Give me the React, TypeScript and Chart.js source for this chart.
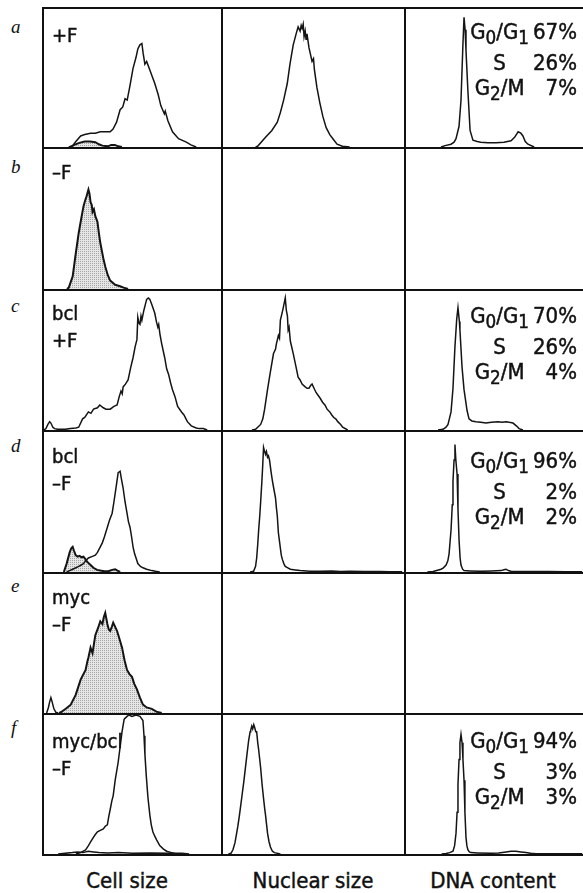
import React, { useEffect, useRef } from "react";
import { Chart, registerables } from "chart.js";

Chart.register(...registerables);

// ---- data: [channel (% of panel width), events (% of panel height)] ----
const cellA = [[14,0],[16.2,1],[18,4],[20.7,8],[23,9],[26.3,10],[29,10],[31.8,11],[34.6,11],[37.4,11],[39,13],[41,18],[43,27],[44.5,29],[45.8,35],[47,34],[48.5,44],[50.3,57],[52,65],[53,71],[54.2,74],[55.3,75],[56,68],[57,60],[58,62],[60,55],[62.6,46],[64.5,38],[66,30],[67,27],[68,24],[68.5,26],[70,19],[72.6,11],[76,6],[80.4,3.5],[83,1.5],[86,0]];
const cellAMinusF = [[15,0],[17,1.5],[20,3],[23,4],[26,4],[29,3.5],[31,2],[33,1],[36,0.5],[38,1.5],[40,1.5],[42,0.5],[44,0]];
const nucA = [[18,0],[19.1,0.5],[23.5,7],[27,12],[30,18],[31.7,25],[33.5,34],[35.5,46],[37,60],[38.8,74],[40.4,82],[41.5,87],[42.6,84],[43.2,88],[43.7,86],[44.3,89],[44.8,80],[45.4,84],[45.9,78],[46.4,82],[47.5,72],[49.2,62],[50,64],[50.5,56],[51.9,43],[53.5,32],[55.2,22],[57,14],[59,9],[60.7,6],[63,2],[66,0.5],[70,0]];
const dnaA = [[19.7,0],[22,1],[25.3,2],[27,3.5],[28.1,6],[29.8,15],[30.9,34],[32,75],[32.6,94],[33.2,85],[33.7,70],[34.8,40],[36,12],[37.6,5],[40,4],[42,3.5],[46,3],[50.6,3],[55,3.5],[59,4.5],[61,7],[63,11],[64.5,10],[65.7,8],[67,4],[68.5,2],[72,0]];

const cellB = [[13,0],[14,1],[16.2,9],[17.9,25],[19.6,40],[21,50],[22.3,59],[23.2,63],[24,66],[25.1,71],[25.7,68],[26.3,62],[27,60],[27.4,55],[28.2,57],[29,52],[30.2,48],[31,40],[31.8,33],[33.5,22],[34.6,16],[36,10],[37.4,6],[40.2,3],[43,2],[45,1],[47.5,0]];

const cellC = [[0,0],[1.1,1],[2.2,4],[3.2,6],[3.9,5],[5,2],[6,1],[7.8,0.5],[12,0.5],[15,1],[18,1.5],[19.6,2],[21.8,8],[23,9],[25.1,13],[26.5,12],[28,15],[30.2,16],[31.5,18],[33.5,16],[35,15],[37.4,15],[39.5,17],[41.3,18],[42.5,24],[43.5,28],[44.2,26],[44.7,31],[46,33],[47.5,36],[49,45],[50.3,52],[51.5,60],[52.5,65],[53,81],[53.6,77],[54.2,76],[54.8,82],[55.3,79],[56.4,86],[57.2,90],[58,94],[59,95],[59.8,94],[61,90],[62.6,84],[63.5,78],[64.3,74],[64.8,76],[65.5,69],[66.5,62],[68.2,52],[69.3,44],[70.4,40],[71.5,34],[72.6,29],[74,24],[75.5,17],[77.7,13],[79,11],[81,6],[83.2,3],[86,1.5],[87.7,1],[90,1],[92.2,0]];
const nucC = [[16,0],[18,0.5],[20.8,4],[22,8],[23,15],[24.6,29],[26.2,42],[27.9,55],[29,58],[29.5,62],[30.6,68],[31.2,66],[31.7,79],[32.8,85],[33.3,88],[34.4,95],[35,86],[35.6,82],[36,72],[36.5,74],[37.2,64],[38.8,55],[40.4,45],[41.5,38],[42.6,36],[43.7,33],[45.4,31],[46.5,30],[47.5,30],[48.4,32],[49.2,33],[50.3,30],[51.4,27],[52.5,25],[53.6,23],[55,20],[56.3,18],[57.5,15],[59,13],[60,11],[61.2,9],[62.3,8],[63.4,6],[65,4],[66.1,2],[68.9,0]];
const dnaC = [[18,0],[20.8,0.5],[22.5,2],[23.6,4],[25.3,13],[26.4,30],[27.5,60],[28.5,80],[29.2,88],[30,78],[30.3,72],[31.5,45],[32.6,29],[34.3,14],[35.4,8],[37,6.5],[39.3,6],[42,5.5],[44.9,5],[48,5.5],[51.7,6],[54,5.5],[56.2,6],[58,5.5],[60.1,5],[62,3],[63.5,1],[65.7,0]];

const cellDMinusF = [[11.2,0],[12.8,6],[14.5,14],[15.4,17],[16.2,18],[17,15],[17.9,12],[19,11],[20.1,11.5],[21.2,10.5],[22.3,11],[23.5,9],[24.6,7],[26.3,5],[27.9,3],[30,1.5],[31.8,1],[34,0.5],[36.3,0.5],[38.5,1.5],[40.2,2],[41.5,1],[43,0]];
const cellD = [[12.8,0],[14.5,1],[16.2,2],[18,3],[19.6,4],[21,5],[22.3,6],[23.5,8],[25.1,10],[27,11],[29,12],[30.2,14],[31.8,18],[33,21],[34.1,25],[35.8,32],[37,37],[38.5,42],[39.5,50],[40.2,56],[41,63],[41.9,71],[43,72],[43.8,66],[44.7,60],[45.8,50],[46.9,42],[47.7,36],[48.6,32],[49.5,25],[50.3,18],[51.2,13],[52,10],[53,6],[54.5,4],[55.9,3],[58,2],[60.9,1],[63,0.5],[65.4,0]];
const nucD = [[15,0],[16.9,0.5],[18,4],[18.6,10],[19.2,20],[19.7,30],[20.3,40],[20.8,50],[21.4,63],[21.9,75],[22.4,89],[23,86],[23.5,84],[24,86],[24.6,82],[25.1,83],[25.7,80],[26.5,72],[27.3,65],[28,60],[29,53],[29.5,46],[30,40],[30.6,28],[31.2,22],[31.7,17],[32.2,12],[32.8,9],[33.6,6],[34.4,4],[35.8,3],[37.2,2],[40,1.5],[42.6,1],[48,0.6],[53.6,0.5],[60,0.7],[65,0.4],[70,0.5],[78,0.3],[86.9,0.3],[92,0.2],[99,0.2]];
const dnaD = [[12,0],[15.2,0.3],[19.7,2],[21,3],[22.5,5],[23.5,8],[24.2,13],[25.3,30],[26,48],[26.4,65],[27,80],[27.5,91],[28,80],[28.7,70],[29.2,45],[29.8,23],[30.4,10],[30.9,5],[31.8,2],[32.6,1],[36,0.8],[42.1,0.5],[48,0.7],[53.4,1],[55,1.6],[56.2,2],[57.5,1],[59,0.5],[65,0.4],[70.2,0.3],[80,0.3],[90,0.2],[99,0.2]];

const cellEBump = [[1.5,0],[2.5,4],[3.2,8],[3.9,11],[4.6,8],[5.6,3],[6.7,0.5],[8,0]];
const cellE = [[8.5,0],[9.5,0.5],[12.3,3],[15.1,6],[17.9,13],[20.7,24],[23.5,31],[24.5,37],[25.1,40],[26.3,47],[27.4,43],[29,56],[30.5,61],[31.8,66],[33,64],[33.8,69],[34.6,72],[35.2,68],[35.8,64],[36.6,60],[37.4,59],[38.3,62],[39.1,65],[40.2,62],[41.3,59],[42.7,53],[44.1,47],[45.5,38],[46.9,31],[48.3,28],[49.7,26],[51,21],[52.5,17],[54.2,11],[55.9,6],[58,4],[60.9,3],[63.5,1],[66.5,0]];

const cellF = [[18,0],[20.7,1],[23.5,3],[25.1,6],[26.5,9],[27.9,12],[29,14],[30.2,16],[31.8,17],[33.5,18],[34.6,20],[35.8,21],[36.6,27],[37.4,32],[38.3,38],[39.1,42],[40.2,53],[41.9,66],[43,77],[44.1,88],[45.3,97],[46.9,99],[48,100],[49.7,99],[52,100],[54.2,99],[55.9,96],[56.5,85],[57,72],[57.8,56],[58.7,41],[59.8,28],[60.6,21],[61.5,16],[62.5,13],[63.7,10],[65.4,6],[67.5,3.5],[69.3,2],[72,1],[74.9,0]];
const cellFLow = [[8,0],[12,0.5],[16,1],[19,1.5],[22,1],[25,2],[28,1.5],[31,1],[36,0.8],[42,1],[50,0.6],[60,0.8],[70,0.5],[78,0.5],[82,0]];
const nucF = [[3,0],[4.4,0.5],[5.5,3],[6.6,8],[7.4,14],[8.2,20],[9,27],[9.8,35],[10.6,43],[11.5,52],[12.3,61],[13.1,70],[14.2,82],[15,88],[15.3,89],[15.9,92],[16.4,90],[17,93],[17.5,91],[18.1,88],[18.6,88],[19.2,80],[19.7,75],[20.3,68],[20.8,62],[21.6,50],[22.4,40],[23,33],[23.5,28],[24.1,21],[24.6,15],[25.4,9],[26.2,5],[27.3,2],[28.4,1],[31.7,0]];
const dnaF = [[20,0],[22.5,0.3],[24.5,1],[26.4,2],[27.3,6],[28.1,15],[28.7,30],[29.2,50],[29.8,68],[30.3,80],[30.9,86],[31.5,80],[32,68],[32.6,53],[33.1,30],[33.7,12],[34.2,6],[34.8,3],[35.6,1.5],[36.5,1],[40,0.8],[47.8,0.5],[52,0.8],[56.2,1.5],[59,2],[61.8,2],[64.5,1.5],[67.4,1],[70,0.5],[73,0.2],[80,0.2],[99,0.1]];

const rowLetters = ["a", "b", "c", "d", "e", "f"];
const rowLabels = [["+F"], ["\u2013F"], ["bcl", "+F"], ["bcl", "\u2013F"], ["myc", "\u2013F"], ["myc/bcl", "\u2013F"]];
const columnTitles = ["Cell size", "Nuclear size", "DNA content"];
const cycleA = [67, 26, 7];
const cycleC = [70, 26, 4];
const cycleD = [96, 2, 2];
const cycleF = [94, 3, 3];

// ---- layout ----
const ROW_Y = [8, 148, 290, 431, 573, 714, 855];
const COL_X = [43, 222, 405, 585];
const LABEL_OFF = [14, 11, 10, 12, 11, 14];
const LETTER_BASE = [25, 25, 22, 21, 19, 20];
const CYCLE_OFF = [11, 0, 13, 17, 0, 14];
const TITLE_X = [127, 313, 493];

type Curve = { pts: number[][]; shaded?: boolean };

const panels: { r: number; c: number; curves: Curve[] }[] = [
  { r: 0, c: 0, curves: [{ pts: cellA }, { pts: cellAMinusF, shaded: true }] },
  { r: 0, c: 1, curves: [{ pts: nucA }] },
  { r: 0, c: 2, curves: [{ pts: dnaA }] },
  { r: 1, c: 0, curves: [{ pts: cellB, shaded: true }] },
  { r: 2, c: 0, curves: [{ pts: cellC }] },
  { r: 2, c: 1, curves: [{ pts: nucC }] },
  { r: 2, c: 2, curves: [{ pts: dnaC }] },
  { r: 3, c: 0, curves: [{ pts: cellD }, { pts: cellDMinusF, shaded: true }] },
  { r: 3, c: 1, curves: [{ pts: nucD }] },
  { r: 3, c: 2, curves: [{ pts: dnaD }] },
  { r: 4, c: 0, curves: [{ pts: cellEBump }, { pts: cellE, shaded: true }] },
  { r: 5, c: 0, curves: [{ pts: cellF }, { pts: cellFLow }] },
  { r: 5, c: 1, curves: [{ pts: nucF }] },
  { r: 5, c: 2, curves: [{ pts: dnaF }] },
];

const cycles: { r: number; v: number[] }[] = [
  { r: 0, v: cycleA },
  { r: 2, v: cycleC },
  { r: 3, v: cycleD },
  { r: 5, v: cycleF },
];

const SANS = '"DejaVu Sans Condensed", "DejaVu Sans", sans-serif';
const TEXT_STROKE = "0.45px #111";

function makeStipple(): CanvasPattern | string {
  const c = document.createElement("canvas");
  c.width = 2;
  c.height = 2;
  const ctx = c.getContext("2d");
  if (!ctx) return "#d6d6d6";
  ctx.fillStyle = "#e6e6e6";
  ctx.fillRect(0, 0, 2, 2);
  ctx.fillStyle = "#a6a6a6";
  ctx.fillRect(0, 0, 1, 1);
  const p = ctx.createPattern(c, "repeat");
  return p || "#d6d6d6";
}

function Panel({ curves, left, top, width, height }: { curves: Curve[]; left: number; top: number; width: number; height: number }) {
  const ref = useRef<HTMLCanvasElement>(null);
  useEffect(() => {
    const shade = makeStipple();
    const chart = new Chart(ref.current as HTMLCanvasElement, {
      type: "line",
      data: {
        datasets: curves.map((cv) => ({
          data: cv.pts.map(([x, y]) => ({ x, y })),
          borderColor: "#141414",
          borderWidth: cv.shaded ? 2 : 1.5,
          backgroundColor: cv.shaded ? (shade as any) : "rgba(0,0,0,0)",
          fill: cv.shaded ? "origin" : false,
          pointRadius: 0,
          tension: 0,
        })),
      },
      options: {
        animation: false,
        responsive: false,
        events: [],
        layout: { padding: 0 },
        plugins: { legend: { display: false }, tooltip: { enabled: false } },
        scales: {
          x: { type: "linear", min: 0, max: 100, display: false },
          y: { type: "linear", min: 0, max: 100, display: false },
        },
      },
    });
    return () => chart.destroy();
  }, []);
  return (
    <canvas
      ref={ref}
      width={width}
      height={height}
      style={{ position: "absolute", left, top, width, height }}
    />
  );
}

function Sub({ children }: { children: React.ReactNode }) {
  return <span style={{ fontSize: "0.85em", position: "relative", top: "0.28em" }}>{children}</span>;
}

function CycleTable({ v, top }: { v: number[]; top: number }) {
  const cell = { lineHeight: "25px" } as React.CSSProperties;
  return (
    <div
      style={{
        position: "absolute",
        right: 6,
        top,
        display: "grid",
        gridTemplateColumns: "auto auto",
        gridTemplateRows: "31px 25px 25px",
        columnGap: 4,
        fontFamily: SANS,
        fontStretch: "condensed",
        fontSize: 22,
        color: "#111",
        WebkitTextStroke: TEXT_STROKE,
      } as React.CSSProperties}
    >
      <span style={{ ...cell, justifySelf: "center" }}>G<Sub>0</Sub>/G<Sub>1</Sub></span>
      <span style={{ ...cell, justifySelf: "end" }}>{v[0]}%</span>
      <span style={{ ...cell, justifySelf: "center" }}>S</span>
      <span style={{ ...cell, justifySelf: "end" }}>{v[1]}%</span>
      <span style={{ ...cell, justifySelf: "center" }}>G<Sub>2</Sub>/M</span>
      <span style={{ ...cell, justifySelf: "end" }}>{v[2]}%</span>
    </div>
  );
}

export default function App() {
  const lineColor = "#111";
  return (
    <div
      style={{
        position: "fixed",
        left: 0,
        top: 0,
        width: 583,
        height: 893,
        overflow: "hidden",
        background: "#fff",
      }}
    >
      {panels.map((p, i) => (
        <Panel
          key={i}
          curves={p.curves}
          left={COL_X[p.c] + 1}
          top={ROW_Y[p.r] + 1}
          width={COL_X[p.c + 1] - COL_X[p.c] - 2}
          height={ROW_Y[p.r + 1] - ROW_Y[p.r] - 2}
        />
      ))}
      {ROW_Y.map((y, i) => (
        <div key={"h" + i} style={{ position: "absolute", left: COL_X[0] - 1, top: y - 1, width: 590, height: 2, background: lineColor }} />
      ))}
      {COL_X.map((x, i) => (
        <div key={"v" + i} style={{ position: "absolute", left: x - 1, top: ROW_Y[0] - 1, width: 2, height: ROW_Y[6] - ROW_Y[0] + 2, background: lineColor }} />
      ))}
      {rowLetters.map((l, i) => (
        <div
          key={"l" + i}
          style={{
            position: "absolute",
            left: 11,
            top: ROW_Y[i] + LETTER_BASE[i] - 16,
            fontFamily: '"Liberation Serif", serif',
            fontStyle: "italic",
            fontSize: 19,
            lineHeight: "19px",
            color: "#111",
          }}
        >
          {l}
        </div>
      ))}
      {rowLabels.map((lines, i) => (
        <div
          key={"rl" + i}
          style={{
            position: "absolute",
            left: 52,
            top: ROW_Y[i] + LABEL_OFF[i],
            fontFamily: SANS,
            fontStretch: "condensed",
            fontSize: 20,
            lineHeight: "27px",
            color: "#111",
            WebkitTextStroke: TEXT_STROKE,
          } as React.CSSProperties}
        >
          {lines.map((t, k) => (
            <div key={k}>{t}</div>
          ))}
        </div>
      ))}
      {cycles.map((cy, i) => (
        <CycleTable key={"c" + i} v={cy.v} top={ROW_Y[cy.r] + CYCLE_OFF[cy.r]} />
      ))}
      {columnTitles.map((t, i) => (
        <div
          key={"t" + i}
          style={{
            position: "absolute",
            left: TITLE_X[i] - 100,
            width: 200,
            top: 868,
            textAlign: "center",
            fontFamily: SANS,
            fontStretch: "condensed",
            fontSize: 22,
            lineHeight: "25px",
            color: "#111",
            WebkitTextStroke: TEXT_STROKE,
          } as React.CSSProperties}
        >
          {t}
        </div>
      ))}
    </div>
  );
}
